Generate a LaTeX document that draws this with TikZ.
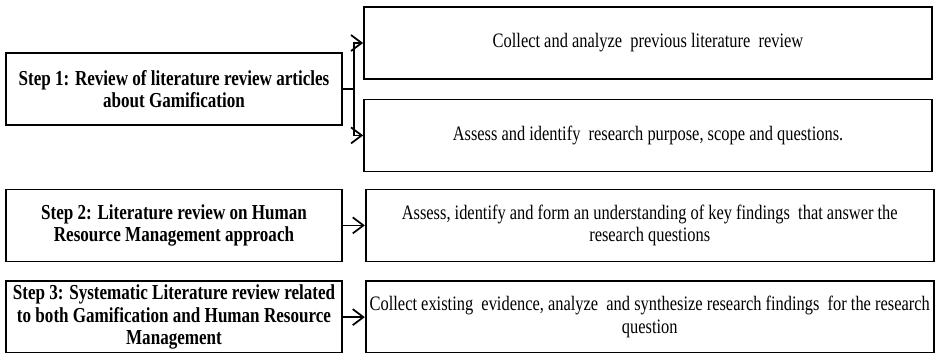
\documentclass[tikz,border=0pt]{standalone}
\usepackage{fontspec}
\setmainfont{Liberation Serif}[FakeStretch=0.8]
\usetikzlibrary{positioning,arrows.meta}

\tikzset{
  stepbox/.style={draw,line width=1.3pt,minimum width=252pt,minimum height=54pt,
    inner sep=2pt,align=center,font=\fontsize{16}{17}\selectfont\bfseries},
  taskbox/.style={draw,line width=1.3pt,minimum width=426pt,minimum height=54pt,
    inner sep=2pt,align=center,font=\fontsize{15.4}{17}\selectfont},
  arr/.style={line width=1.3pt,-{Straight Barb[length=8pt,width=12pt]}}
}

\begin{document}
\begin{tikzpicture}[x=0.75pt,y=-0.75pt]
\useasboundingbox (0,0) rectangle (936,353);
            % step 1 and its two tasks
            \node[stepbox] (s1) at (174,89) {Step 1: Review of literature review articles\\about Gamification};
            \node[taskbox] (a) at (648,43) {Collect and analyze\ \ previous literature\ \ review};
            \node[taskbox] (b)[below =14pt of a] {Assess and identify\ \ research purpose, scope and questions.};
            \draw[arr] (s1.east) -- ++(11,0) |- (a.west);
            \draw[arr] (s1.east) -- ++(11,0) |- (b.west);
            % step 2
            \node[stepbox] (s2)[below =47pt of s1] {Step 2: Literature review on Human\\Resource Management approach};
            \node[taskbox] (c)[right =16.5pt of s2] {Assess, identify and form an understanding of key findings\ \ that answer the\\research questions};
            % step 3
            \node[stepbox] (s3)[below =13.5pt of s2] {Step 3: Systematic Literature review related\\to both Gamification and Human Resource\\Management};
            \node[taskbox] (d)[right =16.5pt of s3] {Collect existing\ \ evidence,\ analyze\ \ and synthesize research findings\ \ for the research\\question};
            \path[arr] (s2) edge (c)
                       (s3) edge (d);
\end{tikzpicture}
\end{document}
